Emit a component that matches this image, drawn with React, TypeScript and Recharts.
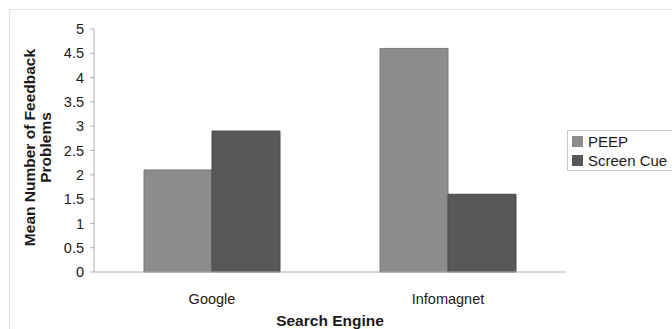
import { BarChart, Bar, XAxis, YAxis, Label } from "recharts";

const engines = ["Google", "Infomagnet"];
const peep = [2.1, 4.6];
const screenCue = [2.9, 1.6];
const yTicks = [0, 0.5, 1, 1.5, 2, 2.5, 3, 3.5, 4, 4.5, 5];
const seriesNames = ["PEEP", "Screen Cue"];
const seriesColors = ["#8c8c8c", "#585858"];

const data = engines.map((engine, i) => ({
  engine,
  peep: peep[i],
  screenCue: screenCue[i],
}));

const font = "'Liberation Sans', Arial, sans-serif";

const YTitle = (props: any) => {
  const { viewBox } = props;
  const cy = viewBox.y + viewBox.height / 2 - 3;
  return (
    <text
      transform={`translate(0, ${cy}) rotate(-90)`}
      textAnchor="middle"
      fontFamily={font}
      fontWeight="bold"
      fontSize={15.5}
      fill="#1a1a1a"
    >
      <tspan x={0} y={35}>Mean Number of Feedback</tspan>
      <tspan x={0} y={51}>Problems</tspan>
    </text>
  );
};

const LegendBox = () => (
  <div
    style={{
      position: "absolute",
      left: 567,
      top: 130,
      fontFamily: font,
      fontSize: 15,
      color: "#1a1a1a",
      border: "1px solid #c8c8c8",
      borderRight: "none",
      padding: "1px 0 0 4px",
      width: 110,
      lineHeight: "19px",
      whiteSpace: "nowrap",
    }}
  >
    {seriesNames.map((name, i) => (
      <div key={name} style={{ display: "flex", alignItems: "center" }}>
        <span
          style={{
            width: 11,
            height: 11,
            background: seriesColors[i],
            marginRight: 5,
            display: "inline-block",
          }}
        />
        {name}
      </div>
    ))}
  </div>
);

export default function App() {
  return (
    <div
      style={{
        position: "absolute",
        left: 0,
        top: 0,
        width: 672,
        height: 329,
        background: "#ffffff",
        overflow: "hidden",
      }}
    >
      <div
        style={{
          position: "absolute",
          left: 9,
          top: 9,
          width: 680,
          height: 330,
          border: "1px solid #e2e2e2",
        }}
      />
      <BarChart
        width={672}
        height={329}
        data={data}
        margin={{ top: 29, right: 106, bottom: 0, left: 0 }}
        barGap={0}
        barCategoryGap={50}
        style={{ position: "absolute", left: 0, top: 0 }}
      >
        <XAxis
          dataKey="engine"
          height={57}
          axisLine={{ stroke: "#b0b0b0" }}
          tickLine={false}
          tick={{ fill: "#1a1a1a", fontSize: 14.5, fontFamily: font }}
          tickMargin={16}
        >
          <Label
            value="Search Engine"
            position="insideBottom"
            offset={3}
            style={{ fontFamily: font, fontWeight: "bold", fontSize: 15.5, fill: "#1a1a1a" }}
          />
        </XAxis>
        <YAxis
          width={94}
          domain={[0, 5]}
          ticks={yTicks}
          interval={0}
          axisLine={{ stroke: "#b0b0b0" }}
          tickLine={{ stroke: "#b0b0b0" }}
          tickSize={4}
          tickMargin={6}
          tick={{ fill: "#1a1a1a", fontSize: 14.5, fontFamily: font }}
        >
          <Label content={<YTitle />} />
        </YAxis>
        <Bar dataKey="peep" name={seriesNames[0]} fill={seriesColors[0]} stroke="#7a7a7a" isAnimationActive={false} />
        <Bar dataKey="screenCue" name={seriesNames[1]} fill={seriesColors[1]} stroke="#4a4a4a" isAnimationActive={false} />
      </BarChart>
      <LegendBox />
    </div>
  );
}
